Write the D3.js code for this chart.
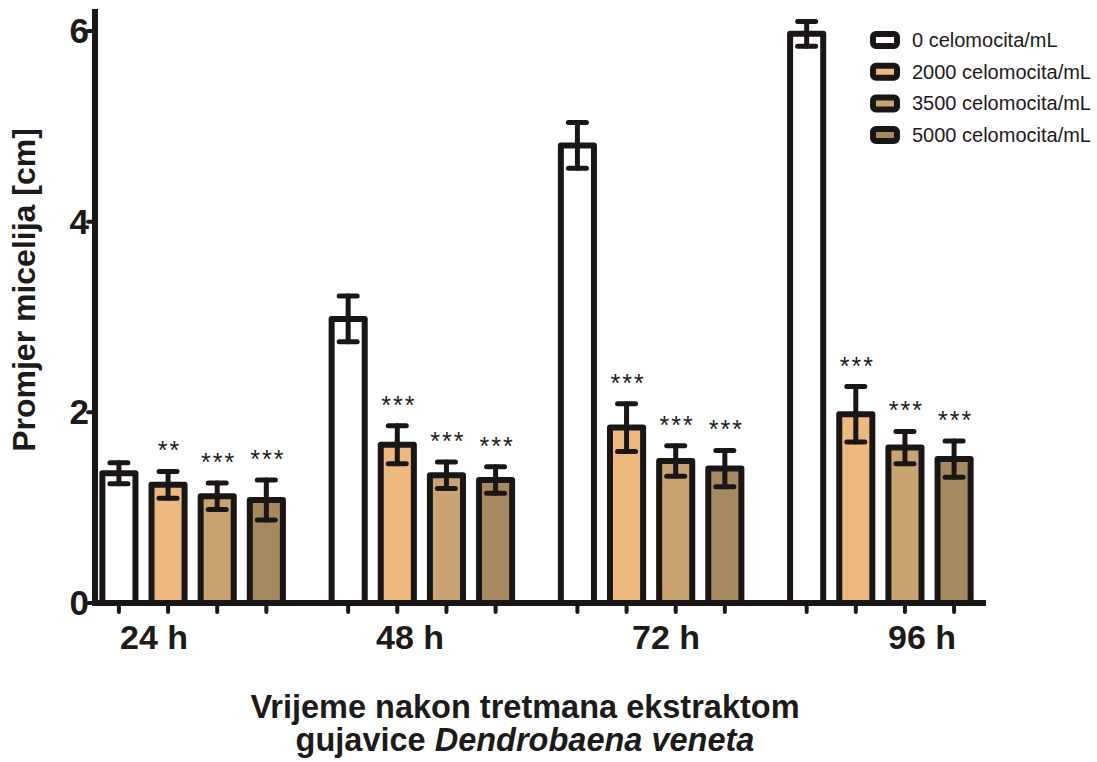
<!DOCTYPE html>
<html>
<head>
<meta charset="utf-8">
<script src="https://cdn.jsdelivr.net/npm/d3@7"></script>
<style>
  body { margin: 0; background: #fff; }
  text { font-family: "Liberation Sans", Arial, sans-serif; fill: #1d1a1a; }
</style>
</head>
<body>
<div id="chart"></div>
<script>
const times = ["24 h", "48 h", "72 h", "96 h"];
const series = ["0 celomocita/mL", "2000 celomocita/mL", "3500 celomocita/mL", "5000 celomocita/mL"];

// mean mycelium diameter [cm]
const c0 = [1.36, 2.98, 4.80, 5.97];
const c2000 = [1.24, 1.66, 1.84, 1.98];
const c3500 = [1.12, 1.34, 1.49, 1.63];
const c5000 = [1.08, 1.29, 1.41, 1.51];

// error bar half-widths
const e0 = [0.11, 0.24, 0.24, 0.13];
const e2000 = [0.14, 0.20, 0.25, 0.29];
const e3500 = [0.14, 0.14, 0.16, 0.17];
const e5000 = [0.21, 0.14, 0.19, 0.19];

// significance marks
const s0 = ["", "", "", ""];
const s2000 = ["**", "***", "***", "***"];
const s3500 = ["***", "***", "***", "***"];
const s5000 = ["***", "***", "***", "***"];

const yTicks = [0, 2, 4, 6];
const colors = ["#ffffff", "#eeb97f", "#c9a371", "#a68960"];

const means = [c0, c2000, c3500, c5000];
const errs = [e0, e2000, e3500, e5000];
const sigs = [s0, s2000, s3500, s5000];

const rows = [];
times.forEach((t, i) => {
  series.forEach((s, j) => {
    rows.push({ time: t, series: s, idx: j, value: means[j][i], err: errs[j][i], sig: sigs[j][i] });
  });
});

const W = 1097, H = 762;
const ink = "#1a1616";

const svg = d3.select("#chart")
  .append("svg")
  .attr("width", W)
  .attr("height", H);

const y = d3.scaleLinear().domain([0, 6]).range([603, 31]);
const x0 = d3.scaleBand().domain(times).range([78, 995]);
const x1 = d3.scaleBand().domain(series).range([16.5, x0.bandwidth() - 16.5])
  .paddingInner(0.3265).paddingOuter(0.16);
const xLabel = d3.scalePoint().domain(times).range([154, 922]);
const cx = d => x0(d.time) + x1(d.series) + x1.bandwidth() / 2;

// bars
svg.selectAll(".bar")
  .data(rows)
  .enter()
  .append("rect")
  .attr("class", "bar")
  .attr("x", d => x0(d.time) + x1(d.series))
  .attr("y", d => y(d.value))
  .attr("width", x1.bandwidth())
  .attr("height", d => y(0) - y(d.value))
  .attr("fill", d => colors[d.idx])
  .attr("stroke", ink)
  .attr("stroke-width", 6)
  .attr("stroke-linejoin", "round");

// error bars
const eb = svg.selectAll(".err")
  .data(rows)
  .enter()
  .append("g")
  .attr("class", "err")
  .attr("stroke", ink)
  .attr("stroke-width", 5)
  .attr("stroke-linecap", "round");

eb.append("line")
  .attr("x1", cx).attr("x2", cx)
  .attr("y1", d => y(d.value + d.err))
  .attr("y2", d => y(d.value - d.err));

eb.append("line")
  .attr("x1", d => cx(d) - 9).attr("x2", d => cx(d) + 9)
  .attr("y1", d => y(d.value + d.err))
  .attr("y2", d => y(d.value + d.err));

eb.append("line")
  .attr("x1", d => cx(d) - 9).attr("x2", d => cx(d) + 9)
  .attr("y1", d => y(d.value - d.err))
  .attr("y2", d => y(d.value - d.err));

// asterisks
svg.selectAll(".sig")
  .data(rows.filter(d => d.sig))
  .enter()
  .append("text")
  .attr("class", "sig")
  .attr("x", d => cx(d) + 1.5)
  .attr("y", d => y(d.value + d.err) - 12)
  .attr("text-anchor", "middle")
  .style("font-size", "25px")
  .style("letter-spacing", "2px")
  .text(d => d.sig);

// axes
svg.append("line")
  .attr("x1", 95).attr("x2", 95)
  .attr("y1", 9).attr("y2", 606)
  .attr("stroke", ink).attr("stroke-width", 6);

svg.append("line")
  .attr("x1", 92).attr("x2", 986)
  .attr("y1", y(0)).attr("y2", y(0))
  .attr("stroke", ink).attr("stroke-width", 6);

svg.selectAll(".ytick")
  .data(yTicks)
  .enter()
  .append("line")
  .attr("class", "ytick")
  .attr("x1", 88).attr("x2", 95)
  .attr("y1", d => y(d)).attr("y2", d => y(d))
  .attr("stroke", ink).attr("stroke-width", 4)
  .attr("stroke-linecap", "round");

svg.selectAll(".ylab")
  .data(yTicks)
  .enter()
  .append("text")
  .attr("class", "ylab")
  .attr("x", 89)
  .attr("y", d => y(d) + 12)
  .attr("text-anchor", "end")
  .style("font-size", "35px")
  .style("font-weight", "bold")
  .text(d => d);

svg.selectAll(".xtick")
  .data(rows)
  .enter()
  .append("line")
  .attr("class", "xtick")
  .attr("x1", cx).attr("x2", cx)
  .attr("y1", y(0)).attr("y2", y(0) + 9)
  .attr("stroke", ink).attr("stroke-width", 4)
  .attr("stroke-linecap", "round");

svg.selectAll(".xlab")
  .data(times)
  .enter()
  .append("text")
  .attr("class", "xlab")
  .attr("x", d => xLabel(d))
  .attr("y", 649)
  .attr("text-anchor", "middle")
  .style("font-size", "34px")
  .style("font-weight", "bold")
  .text(d => d);

// titles
svg.append("text")
  .attr("transform", "translate(35,290) rotate(-90)")
  .attr("text-anchor", "middle")
  .style("font-size", "32px")
  .style("font-weight", "bold")
  .text("Promjer micelija [cm]");

const xt = svg.append("text")
  .attr("x", 525)
  .attr("y", 718)
  .attr("text-anchor", "middle")
  .style("font-size", "32.5px")
  .style("font-weight", "bold");
xt.append("tspan").attr("x", 525).text("Vrijeme nakon tretmana ekstraktom");
xt.append("tspan").attr("x", 525).attr("dy", 33).text("gujavice ");
xt.append("tspan").style("font-style", "italic").text("Dendrobaena veneta");

// legend
const leg = svg.selectAll(".leg")
  .data(series)
  .enter()
  .append("g")
  .attr("class", "leg")
  .attr("transform", (d, i) => `translate(873,${40 + i * 31.7})`);

leg.append("rect")
  .attr("x", 0).attr("y", -6)
  .attr("width", 24).attr("height", 12)
  .attr("rx", 3)
  .attr("fill", (d, i) => colors[i])
  .attr("stroke", ink)
  .attr("stroke-width", 6);

leg.append("text")
  .attr("x", 39)
  .attr("y", 7)
  .style("font-size", "20px")
  .text(d => d);
</script>
</body>
</html>
